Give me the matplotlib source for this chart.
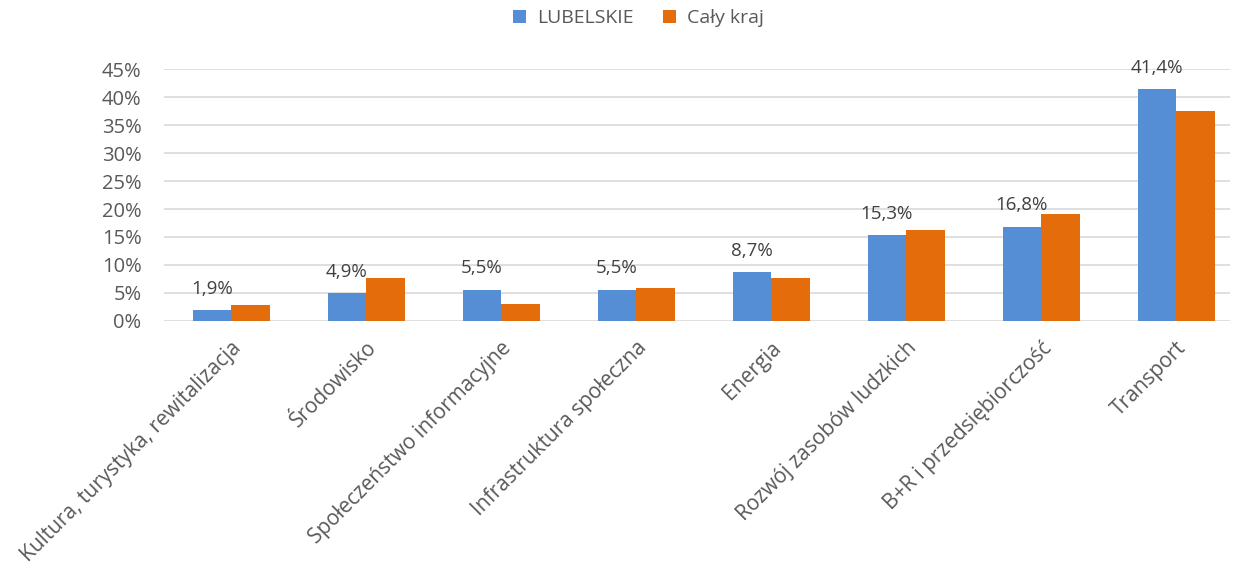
import matplotlib.pyplot as plt
import numpy as np

categories = ["Kultura, turystyka, rewitalizacja", "Środowisko", "Społeczeństwo informacyjne",
              "Infrastruktura społeczna", "Energia", "Rozwój zasobów ludzkich",
              "B+R i przedsiębiorczość", "Transport"]
lubelskie = [1.9, 4.9, 5.5, 5.5, 8.7, 15.3, 16.8, 41.4]
caly_kraj = [2.9, 7.7, 3.1, 5.8, 7.7, 16.3, 19.1, 37.5]
series_names = ["LUBELSKIE", "Cały kraj"]

plt.rcParams['font.family'] = ['Open Sans', 'DejaVu Sans']
text_col = '#595959'

fig = plt.figure(figsize=(12.4, 5.72), dpi=100)
ax = fig.add_axes([0.132, 0.439, 0.860, 0.44])

x = np.arange(len(categories))
w = 0.285
b1 = ax.bar(x - w / 2, lubelskie, w, color='#558ed5', label=series_names[0], zorder=3)
b2 = ax.bar(x + w / 2, caly_kraj, w, color='#e46c0a', label=series_names[1], zorder=3)

for xi, v in zip(x, lubelskie):
    ax.annotate(f"{v:.1f}%".replace('.', ','), (xi - w / 2, v), xytext=(0, 12),
                textcoords='offset points', ha='center', va='baseline',
                fontsize=13.5, color='#404040')

ax.set_xlim(-0.5, len(categories) - 0.6)
ax.set_ylim(0, 45)
ax.set_yticks(range(0, 46, 5))
ax.set_yticklabels([f"{t}%" for t in range(0, 46, 5)], fontsize=14.5, color=text_col)
ax.set_xticks(x)
ax.set_xticklabels(categories, rotation=45, ha='right', rotation_mode='anchor',
                   fontsize=15, color=text_col)
ax.tick_params(axis='y', length=0, pad=16)
ax.tick_params(axis='x', length=0, pad=12)
ax.yaxis.grid(True, color='#d9d9d9', linewidth=1.2, zorder=0)
for s in ax.spines.values():
    s.set_visible(False)

fig.legend(handles=[b1, b2], loc='upper center', bbox_to_anchor=(0.515, 1.015), ncol=2,
           frameon=False, fontsize=14, handlelength=0.65, handleheight=0.65,
           columnspacing=1.5, handletextpad=0.6, labelcolor=text_col)

fig.savefig('out.png', dpi=100)
